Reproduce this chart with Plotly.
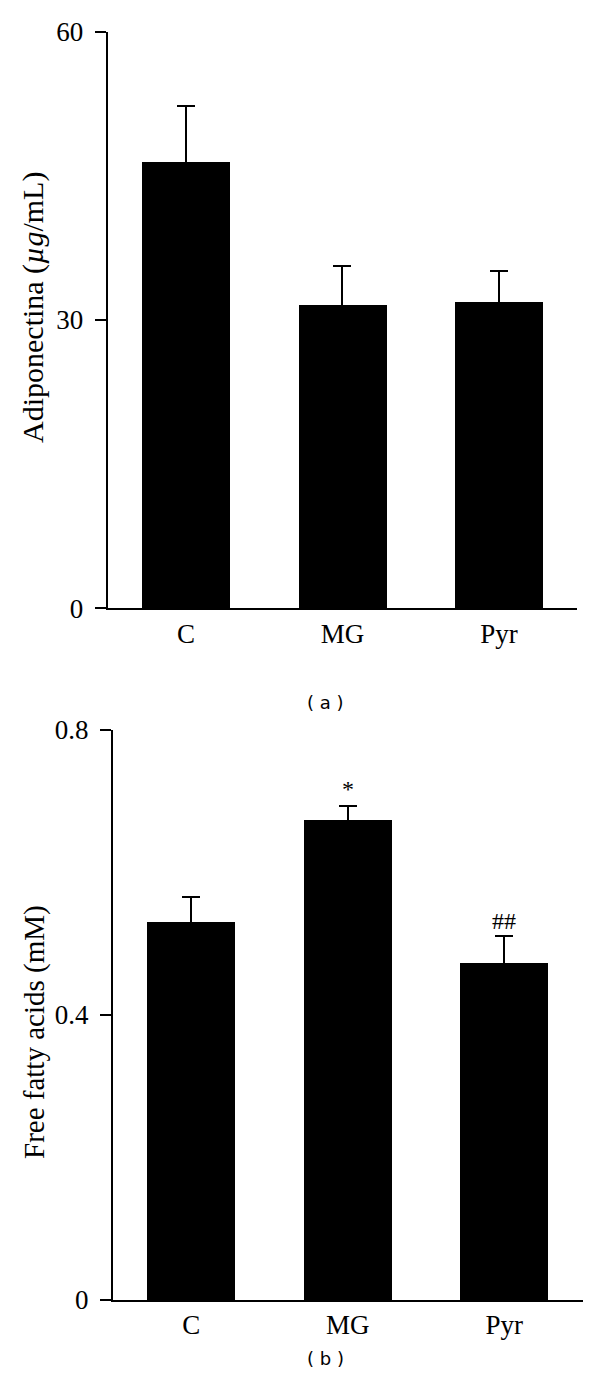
import plotly.graph_objects as go

categories = ["C", "MG", "Pyr"]

# Panel (a): Adiponectina (µg/mL)
adipo_mean = [46.5, 31.6, 31.9]
adipo_err = [5.8, 4.0, 3.2]

# Panel (b): Free fatty acids (mM)
ffa_mean = [0.531, 0.673, 0.473]
ffa_err = [0.034, 0.021, 0.038]
ffa_marks = ["", "*", "##"]
ffa_mark_y = [None, 0.717, 0.532]

a_ticks = [0, 30, 60]
b_ticks = [0, 0.4, 0.8]
b_ticklabels = ["0", "0.4", "0.8"]

SERIF = "Liberation Serif, Times New Roman, serif"
W, H = 600, 1388
FS = 27

fig = go.Figure()

fig.add_trace(go.Bar(
    x=categories, y=adipo_mean, width=0.565,
    marker=dict(color="black", line=dict(width=0)),
    error_y=dict(type="data", array=adipo_err, symmetric=True,
                 color="black", thickness=2, width=9),
    xaxis="x", yaxis="y", showlegend=False,
))
fig.add_trace(go.Bar(
    x=categories, y=ffa_mean, width=0.565,
    marker=dict(color="black", line=dict(width=0)),
    error_y=dict(type="data", array=ffa_err, symmetric=True,
                 color="black", thickness=2, width=9),
    xaxis="x2", yaxis="y2", showlegend=False,
))

axis_common = dict(showgrid=False, zeroline=False, showline=True, linecolor="black",
                   linewidth=2, automargin=False,
                   tickfont=dict(family=SERIF, size=FS, color="black"))

fig.update_layout(
    template="none",
    width=W, height=H,
    margin=dict(l=0, r=0, t=0, b=0, pad=0),
    plot_bgcolor="white", paper_bgcolor="white",
    bargap=0,
    xaxis=dict(**axis_common, domain=[107.7 / W, 577.2 / W], range=[-0.5, 2.5],
               ticks="", anchor="y", ticklabelstandoff=0),
    yaxis=dict(**axis_common, domain=[(H - 608.3) / H, (H - 31.7) / H], range=[0, 60],
               tickvals=a_ticks, ticks="outside", ticklen=11, tickwidth=2,
               tickcolor="black", anchor="x", ticklabelstandoff=6),
    xaxis2=dict(**axis_common, domain=[113 / W, 582.5 / W], range=[-0.5, 2.5],
                ticks="", anchor="y2", ticklabelstandoff=0),
    yaxis2=dict(**axis_common, domain=[(H - 1300) / H, (H - 730) / H], range=[0, 0.8],
                tickvals=b_ticks, ticktext=b_ticklabels, ticks="outside", ticklen=11,
                tickwidth=2, tickcolor="black", anchor="x2", ticklabelstandoff=6),
)

annotations = [
    dict(text="Adiponectina (<i>µg</i>/mL)", textangle=-90, xref="paper", yref="paper",
         x=33 / W, y=(H - 308) / H, showarrow=False, xanchor="center", yanchor="middle",
         font=dict(family=SERIF, size=30, color="black")),
    dict(text="Free fatty acids (mM)", textangle=-90, xref="paper", yref="paper",
         x=34 / W, y=(H - 1032) / H, showarrow=False, xanchor="center", yanchor="middle",
         font=dict(family=SERIF, size=29, color="black")),
    dict(text="( a )", xref="paper", yref="paper", x=325 / W, y=(H - 702) / H,
         showarrow=False, xanchor="center", yanchor="middle",
         font=dict(family="DejaVu Sans", size=18, color="black")),
    dict(text="( b )", xref="paper", yref="paper", x=325 / W, y=(H - 1358) / H,
         showarrow=False, xanchor="center", yanchor="middle",
         font=dict(family="DejaVu Sans", size=18, color="black")),
]
for cat, mark, my in zip(categories, ffa_marks, ffa_mark_y):
    if mark:
        annotations.append(dict(text=mark, xref="x2", yref="y2", x=cat, y=my,
                                showarrow=False, xanchor="center", yanchor="middle",
                                font=dict(family=SERIF, size=24, color="black")))
fig.update_layout(annotations=annotations)

fig.write_html("out.html", config={"displayModeBar": False},
               post_script="document.body.style.margin='0';document.body.style.padding='0';")
